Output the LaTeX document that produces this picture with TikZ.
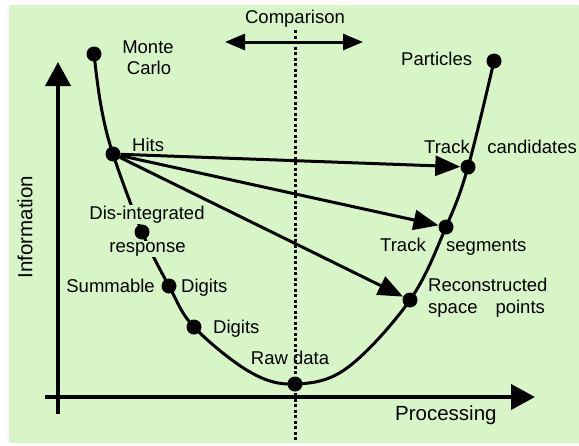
\documentclass[tikz,border=0pt]{standalone}
\usepackage{fontspec}
\setmainfont{Liberation Sans}
\usetikzlibrary{arrows.meta}
\definecolor{bggreen}{RGB}{216,245,199}
\begin{document}
\begin{tikzpicture}[x=1pt,y=-1pt,
  dot/.style={circle,fill=black,inner sep=0pt,minimum size=15pt},
  lbl/.style={font=\fontsize{18.5}{22}\selectfont,inner sep=0pt,anchor=base},
  lblw/.style={lbl,anchor=base west},
  lble/.style={lbl,anchor=base east},
  bigfont/.style={font=\fontsize{20.5}{24}\selectfont,inner sep=0pt},
  curve/.style={line width=3pt,line join=round},
  axis/.style={line width=4pt,-{Triangle[length=24pt,width=25pt]}},
  hitarrow/.style={line width=3pt,-{Triangle[length=25pt,width=20pt]}},
  comparrow/.style={line width=3pt,{Triangle[length=20pt,width=16pt]}-{Triangle[length=20pt,width=16pt]}},
  dotline/.style={line width=3pt,dash pattern=on 3pt off 2.5pt},
  masked/.style={fill=bggreen,inner sep=1pt}]
\useasboundingbox (0,0) rectangle (579,445);
\fill[bggreen] (9,5) rectangle (579,443);
% coordinates of the curve
\coordinate (mc) at (94,54);
\coordinate (mc2) at (101,106);
\coordinate (hits) at (113,154);
\coordinate (dis) at (142,232);
\coordinate (sum) at (169,286);
\coordinate (dig) at (194,327);
\coordinate (low1) at (250,372);
\coordinate (raw) at (295,384);
\coordinate (low2) at (347,368);
\coordinate (rec) at (410,300);
\coordinate (seg) at (446,227);
\coordinate (cand) at (468,167);
\coordinate (part) at (494,61);
% axes
\coordinate (yb) at (58,414);
\coordinate (yt) at (58,62);
\coordinate (xl) at (45,397);
\coordinate (xr) at (535,397);
\draw[axis] (yb) -- (yt);
\draw[axis] (xl) -- (xr);
% comparison
\coordinate (cl) at (225,42);
\coordinate (cr) at (363,42);
\draw[comparrow] (cl) -- (cr);
\coordinate (dtop) at (295,30);
\coordinate (dbot) at (295,440);
% curve
\draw[curve] plot[smooth,tension=0.6] coordinates {(mc) (mc2) (hits) (dis) (sum) (dig) (low1) (raw) (low2) (rec) (seg) (cand) (part)};
% labels
\node[lbl] (lcomp) at (295,23) {Comparison};
\node[lbl] (lmonte) at (148,53) {Monte};
\node[lbl] (lcarlo) at (149,74) {Carlo};
\node[lblw] (lhits) at (132,151) {Hits};
\node[lbl,masked] (ldis) at (147,219) {Dis-integrated};
\node[lbl,masked] (lresp) at (147.5,252) {response};
\node[lble] (lsum) at (155,292) {Summable};
\node[lblw] (lsumd) at (181,292) {Digits};
\node[lblw] (ldig) at (213,333) {Digits};
\node[lbl] (lraw) at (290,364) {Raw data};
\node[lblw] (lrec) at (428,291) {Reconstructed};
\node[lblw] (lspace) at (428,313) {space\hspace{18pt}points};
\node[lblw] (ltrk1) at (380,251) {Track};
\node[lblw] (lsegs) at (446,251) {segments};
\node[lblw] (ltrk2) at (424,153) {Track};
\node[lbl,anchor=base east] (lcands) at (577,153) {candidates};
\node[lblw] (lpart) at (401,65) {Particles};
\node[bigfont,anchor=base west] (lproc) at (395,420) {Processing};
\node[bigfont,rotate=90] (linfo) at (25,227) {Information};
% dotted line
\draw[dotline] (dtop) -- (dbot);
% dots
\node[dot] (mcdot) at (mc) {};
\node[dot] (hitsdot) at (hits) {};
\node[dot] (disdot) at (dis) {};
\node[dot] (sumdot) at (sum) {};
\node[dot] (digdot) at (dig) {};
\node[dot] (rawdot) at (raw) {};
\node[dot] (recdot) at (rec) {};
\node[dot] (segdot) at (seg) {};
\node[dot] (canddot) at (cand) {};
\node[dot] (partdot) at (part) {};
% arrows from hits
\draw[hitarrow] (hitsdot) -- (canddot);
\draw[hitarrow] (hitsdot) -- (segdot);
\draw[hitarrow] (hitsdot) -- (recdot);
\end{tikzpicture}
\end{document}
